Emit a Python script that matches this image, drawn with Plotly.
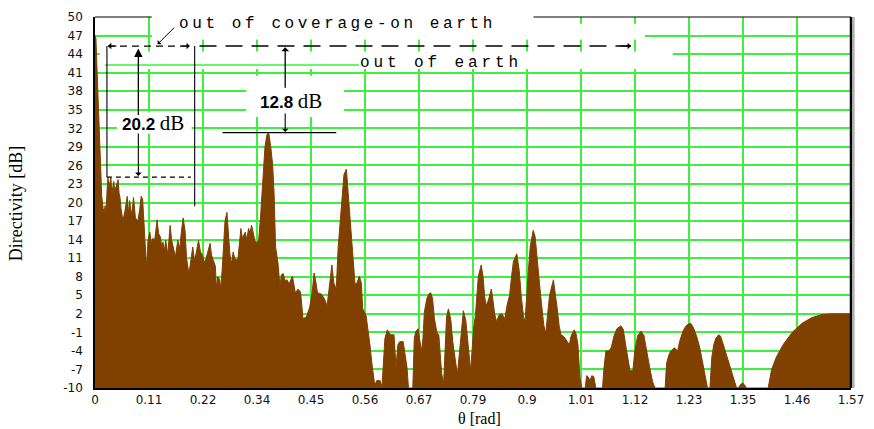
import plotly.graph_objects as go

# ---------------- data ----------------
theta_rad = [
    0.000, 0.002, 0.004, 0.006, 0.008, 0.010, 0.012, 0.014, 0.017, 0.019,
    0.021, 0.023, 0.025, 0.027, 0.029, 0.031, 0.033, 0.035, 0.037, 0.039,
    0.041, 0.043, 0.046, 0.048, 0.050, 0.052, 0.054, 0.058, 0.062, 0.067,
    0.070, 0.072, 0.076, 0.080, 0.084, 0.089, 0.093, 0.096, 0.099, 0.102,
    0.104, 0.107, 0.110, 0.114, 0.117, 0.120, 0.124, 0.129, 0.132, 0.136,
    0.139, 0.141, 0.144, 0.147, 0.151, 0.156, 0.159, 0.163, 0.167, 0.172,
    0.176, 0.179, 0.183, 0.187, 0.190, 0.195, 0.199, 0.203, 0.207, 0.211,
    0.215, 0.219, 0.223, 0.228, 0.231, 0.235, 0.239, 0.242, 0.246, 0.250,
    0.252, 0.255, 0.259, 0.261, 0.264, 0.267, 0.270, 0.274, 0.277, 0.280,
    0.283, 0.287, 0.290, 0.294, 0.297, 0.300, 0.303, 0.306, 0.309, 0.312,
    0.315, 0.319, 0.322, 0.325, 0.329, 0.332, 0.336, 0.340, 0.344, 0.349,
    0.353, 0.357, 0.361, 0.365, 0.369, 0.372, 0.375, 0.380, 0.384, 0.387,
    0.391, 0.395, 0.399, 0.403, 0.410, 0.416, 0.422, 0.427, 0.432, 0.439,
    0.446, 0.451, 0.455, 0.459, 0.462, 0.470, 0.476, 0.482, 0.487, 0.492,
    0.496, 0.501, 0.505, 0.509, 0.513, 0.517, 0.522, 0.528, 0.534, 0.538,
    0.540, 0.544, 0.549, 0.553, 0.556, 0.563, 0.568, 0.571, 0.575, 0.578,
    0.581, 0.585, 0.592, 0.596, 0.599, 0.602, 0.607, 0.610, 0.614, 0.621,
    0.625, 0.629, 0.633, 0.640, 0.644, 0.648, 0.651, 0.660, 0.663, 0.666,
    0.671, 0.674, 0.678, 0.681, 0.684, 0.689, 0.693, 0.697, 0.701, 0.705,
    0.710, 0.714, 0.718, 0.720, 0.724, 0.727, 0.730, 0.734, 0.739, 0.743,
    0.747, 0.751, 0.753, 0.757, 0.761, 0.765, 0.770, 0.773, 0.776, 0.780,
    0.783, 0.786, 0.790, 0.793, 0.796, 0.802, 0.806, 0.809, 0.812, 0.817,
    0.823, 0.826, 0.830, 0.834, 0.839, 0.845, 0.851, 0.856, 0.861, 0.865,
    0.869, 0.876, 0.881, 0.885, 0.890, 0.893, 0.896, 0.900, 0.904, 0.910,
    0.914, 0.918, 0.923, 0.927, 0.932, 0.936, 0.940, 0.944, 0.952, 0.956,
    0.960, 0.964, 0.968, 0.974, 0.981, 0.985, 0.989, 0.995, 0.999, 1.003,
    1.007, 1.011, 1.018, 1.021, 1.024, 1.028, 1.032, 1.036, 1.040, 1.054,
    1.057, 1.061, 1.067, 1.072, 1.078, 1.084, 1.092, 1.097, 1.103, 1.107,
    1.111, 1.117, 1.121, 1.127, 1.134, 1.140, 1.144, 1.148, 1.154, 1.158,
    1.163, 1.184, 1.187, 1.192, 1.196, 1.203, 1.210, 1.214, 1.221, 1.227,
    1.233, 1.238, 1.243, 1.249, 1.256, 1.262, 1.268, 1.272, 1.277, 1.281,
    1.285, 1.289, 1.295, 1.299, 1.303, 1.307, 1.312, 1.316, 1.322, 1.328,
    1.332, 1.336, 1.341, 1.345, 1.349, 1.353, 1.398, 1.405, 1.415, 1.429,
    1.448, 1.469, 1.489, 1.510, 1.531, 1.570,
]

directivity_db = [
    47.0, 46.5, 42.0, 38.0, 34.0, 29.0, 25.0, 21.0, 19.0, 18.5,
    19.5, 18.2, 22.0, 24.0, 22.5, 23.2, 24.0, 21.5, 22.8, 23.4,
    21.8, 22.5, 23.0, 23.7, 21.5, 20.8, 19.0, 17.1, 18.5, 21.0,
    18.0, 20.3, 17.9, 20.8, 17.5, 17.0, 19.0, 21.0, 20.5, 16.0,
    12.8, 9.4, 13.9, 15.2, 13.5, 14.2, 13.9, 17.2, 15.0, 14.4,
    12.5, 13.6, 12.2, 13.9, 11.5, 16.3, 14.0, 12.3, 11.2, 13.9,
    12.5, 15.0, 17.5, 15.5, 11.1, 8.4, 11.0, 12.8, 10.5, 12.5,
    13.9, 12.0, 11.5, 10.2, 11.0, 12.5, 13.4, 11.5, 10.7, 9.7,
    6.2, 8.0, 7.5, 6.0, 9.0, 14.0, 17.0, 18.4, 15.0, 11.8,
    10.0, 12.0, 11.0, 10.7, 11.0, 14.0, 15.8, 14.2, 14.7, 15.2,
    14.0, 15.8, 15.0, 16.3, 15.0, 13.8, 13.4, 14.0, 18.0, 25.0,
    29.0, 31.0, 31.2, 29.0, 26.0, 21.3, 12.8, 10.2, 6.5, 8.3,
    8.5, 7.3, 7.5, 6.8, 8.1, 5.4, 6.0, 5.5, 1.2, 1.5,
    3.1, 5.5, 8.6, 7.0, 5.4, 5.2, 4.5, 3.3, 7.0, 9.9,
    7.0, 6.0, 12.8, 17.0, 20.3, 24.5, 25.4, 19.2, 13.9, 9.0,
    6.8, 7.0, 8.1, 7.0, 2.8, 1.7, -1.0, -3.0, -6.0, -8.3,
    -9.6, -8.8, -8.8, -9.8, -6.0, -2.0, -0.6, -1.0, -1.4, -1.4,
    -6.7, -3.0, -2.5, -2.5, -4.5, -6.7, -10.0, -10.0, -2.0, -0.9,
    -0.4, -2.0, -4.1, -2.0, 2.3, 4.4, 5.2, 5.4, 4.5, 1.2,
    -1.0, -1.4, -6.0, -7.7, -9.3, -3.0, 1.5, 2.8, 1.0, -2.5,
    -5.1, -7.0, -7.5, -4.0, 0.0, 2.5, 1.0, -1.5, -3.0, -7.2,
    -4.0, -0.5, 1.7, 5.0, 8.0, 9.9, 8.0, 5.0, 3.3, 4.2,
    6.0, 4.5, 2.0, 0.7, 1.8, 2.0, 1.2, 3.5, 5.0, 8.0,
    10.5, 11.7, 9.0, 5.0, 1.5, 0.7, 5.0, 9.0, 13.0, 15.5,
    14.5, 10.5, 7.0, 3.8, 0.2, -1.2, 1.5, 5.0, 7.5, 5.5,
    2.8, 0.0, -1.4, -1.7, -2.5, -3.0, -1.5, -0.6, -1.2, -3.0,
    -8.3, -10.0, -10.0, -8.0, -8.2, -8.8, -8.0, -8.2, -10.0, -10.0,
    -6.7, -4.0, -4.0, -3.5, -1.5, -0.4, 0.05, -0.5, -3.5, -5.5,
    -7.2, -7.2, -4.0, -1.5, -0.8, -1.5, -3.0, -5.0, -7.5, -9.0,
    -10.0, -10.0, -6.0, -4.6, -4.0, -3.5, -4.0, -2.5, -0.8, 0.0,
    0.4, 0.4, -0.3, -1.5, -3.5, -6.0, -8.5, -10.0, -10.0, -5.0,
    -3.0, -2.0, -1.4, -1.6, -2.5, -3.5, -5.0, -6.0, -7.5, -9.0,
    -9.9, -10.0, -9.4, -9.2, -9.5, -10.0, -10.0, -7.0, -5.0, -3.0,
    -1.0, 0.5, 1.4, 1.9, 2.0, 2.0,
]

x_tick_labels = ["0", "0.11", "0.22", "0.34", "0.45", "0.56", "0.67", "0.79",
                 "0.9", "1.01", "1.12", "1.23", "1.35", "1.46", "1.57"]
y_tick_values = [-10, -7, -4, -1, 2, 5, 8, 11, 14, 17, 20, 23, 26, 29, 32,
                 35, 38, 41, 44, 47, 50]

# ---------------- styling ----------------
X_MAX = 1.57
Y_MIN, Y_MAX = -10, 50
BROWN = "#804000"
GRID = "#3cf03c"
MONO = "Liberation Mono"
SERIF = "Liberation Serif"
SANS = "Liberation Sans"

x_tickvals = [i * X_MAX / (len(x_tick_labels) - 1) for i in range(len(x_tick_labels))]
y_ticktext = [str(v) for v in y_tick_values]  # plain hyphen minus

fig = go.Figure()
# baseline at the bottom of the axis so that the area fills down to -10 dB
fig.add_trace(go.Scatter(x=[theta_rad[0], theta_rad[-1]], y=[Y_MIN, Y_MIN],
                         mode="lines", line=dict(width=0, color=BROWN),
                         hoverinfo="skip", showlegend=False))
fig.add_trace(go.Scatter(x=theta_rad, y=directivity_db, mode="lines",
                         fill="tonexty", fillcolor=BROWN,
                         line=dict(color=BROWN, width=1),
                         showlegend=False))

shapes = []
# white label boxes that hide the grid
def mask(x0, x1, y0, y1):
    shapes.append(dict(type="rect", xref="x", yref="y", x0=x0, x1=x1, y0=y0, y1=y1,
                       fillcolor="white", line=dict(width=0), layer="between"))

mask(0.118, 0.912, 46.35, 50.6)
mask(0.912, 1.142, 46.35, 48.9)
mask(0.010, 1.200, 41.59, 44.44)
mask(0.314, 0.517, 33.81, 40.48)
mask(0.0455, 0.2007, 31.1, 34.6)
# stray grid segment visible in the original
shapes.append(dict(type="line", xref="x", yref="y", x0=0.0207, x1=0.548, y0=42.22, y1=42.22,
                   line=dict(color=GRID, width=1.5), layer="between"))

def line(x0, y0, x1, y1, dash="solid", width=1.1, color="black"):
    shapes.append(dict(type="line", xref="x", yref="y", x0=x0, y0=y0, x1=x1, y1=y1,
                       line=dict(color=color, width=width, dash=dash), layer="above"))

# frame pieces
shapes.append(dict(type="line", xref="paper", yref="paper", x0=0, x1=0.075, y0=1, y1=1,
                   line=dict(color="black", width=1.2), layer="above"))
shapes.append(dict(type="line", xref="paper", yref="paper", x0=0.580, x1=1, y0=1, y1=1,
                   line=dict(color="black", width=1.2), layer="above"))
shapes.append(dict(type="line", xref="paper", yref="paper", x0=1.0035, x1=1.0035, y0=0, y1=1,
                   line=dict(color="#b0b0b0", width=2), layer="above"))
shapes.append(dict(type="line", xref="paper", yref="paper", x0=1, x1=1, y0=0, y1=1,
                   line=dict(color="black", width=2.5), layer="above"))

# annotation lines
line(0.027, 45.3, 0.197, 45.3, dash="7px,5px", width=1.3)      # out of coverage
line(0.217, 45.3, 1.113, 45.3, dash="17px,9px", width=1.6)     # out of earth
line(0.0248, 24.1, 0.0248, 45.3)
line(0.207, 19.4, 0.207, 45.3)
line(0.0248, 24.1, 0.199, 24.1, dash="5px,4px", width=1.1)
line(0.265, 31.3, 0.501, 31.3)

annotations = []

def arrow(x, y, ax, ay, head=1, size=1.0, width=1.1):
    annotations.append(dict(x=x, y=y, xref="x", yref="y", ax=ax, ay=ay, text="",
                            showarrow=True, arrowhead=head, arrowsize=size,
                            arrowwidth=width, arrowcolor="black", standoff=0))

arrow(0.027, 45.3, 10, 0)
arrow(0.197, 45.3, -10, 0)
arrow(1.113, 45.3, -12, 0)
arrow(0.130, 45.6, 18, -18, width=1)
arrow(0.090, 44.9, 0, 68, head=2, size=1.3, width=1.3)
arrow(0.090, 24.3, 0, -44)
arrow(0.395, 45.1, 0, 42, width=1.3)
arrow(0.395, 31.4, 0, -20)

def label(x, y, text, size, family, xanchor="center", xref="x", yref="y", angle=0):
    annotations.append(dict(x=x, y=y, xref=xref, yref=yref, text=text, showarrow=False,
                            xanchor=xanchor, yanchor="middle", textangle=angle,
                            font=dict(family=family, size=size, color="black")))

label(0.170, 48.9, '<span style="letter-spacing:3.6px">out of coverage-on earth</span>',
      16, MONO, xanchor="left")
label(0.718, 42.5, '<span style="letter-spacing:3.9px">out of earth</span>', 16, MONO)
label(0.407, 36.4, '<b>12.8</b> <span style="font-family:Liberation Serif;font-size:21px">dB</span>',
      17, SANS)
label(0.1207, 32.8, '<b>20.2</b> <span style="font-family:Liberation Serif;font-size:21px">dB</span>',
      17, SANS)
label(-0.105, 0.497, "Directivity [dB]", 18, SERIF, xref="paper", yref="paper", angle=-90)
label(0.509, -0.083, "θ [rad]", 16, SERIF, xref="paper", yref="paper")

fig.update_layout(
    width=874, height=429,
    margin=dict(l=95, r=19, t=10, b=41),
    paper_bgcolor="white", plot_bgcolor="white",
    shapes=shapes, annotations=annotations,
    showlegend=False,
    xaxis=dict(range=[0, X_MAX], tickvals=x_tickvals, ticktext=x_tick_labels,
               showgrid=True, gridcolor=GRID, gridwidth=1.5, zeroline=False,
               showline=True, linecolor="black", linewidth=1.5, ticks="",
               ticklabelstandoff=0,
               tickfont=dict(family="DejaVu Sans", size=12, color="#111")),
    yaxis=dict(range=[Y_MIN, Y_MAX], tickvals=y_tick_values, ticktext=y_ticktext,
               showgrid=True, gridcolor=GRID, gridwidth=1.5, zeroline=False,
               showline=True, linecolor="black", linewidth=1.5, ticks="",
               ticklabelstandoff=8,
               tickfont=dict(family="DejaVu Sans", size=12, color="#111")),
)

fig.write_html("out.html")
